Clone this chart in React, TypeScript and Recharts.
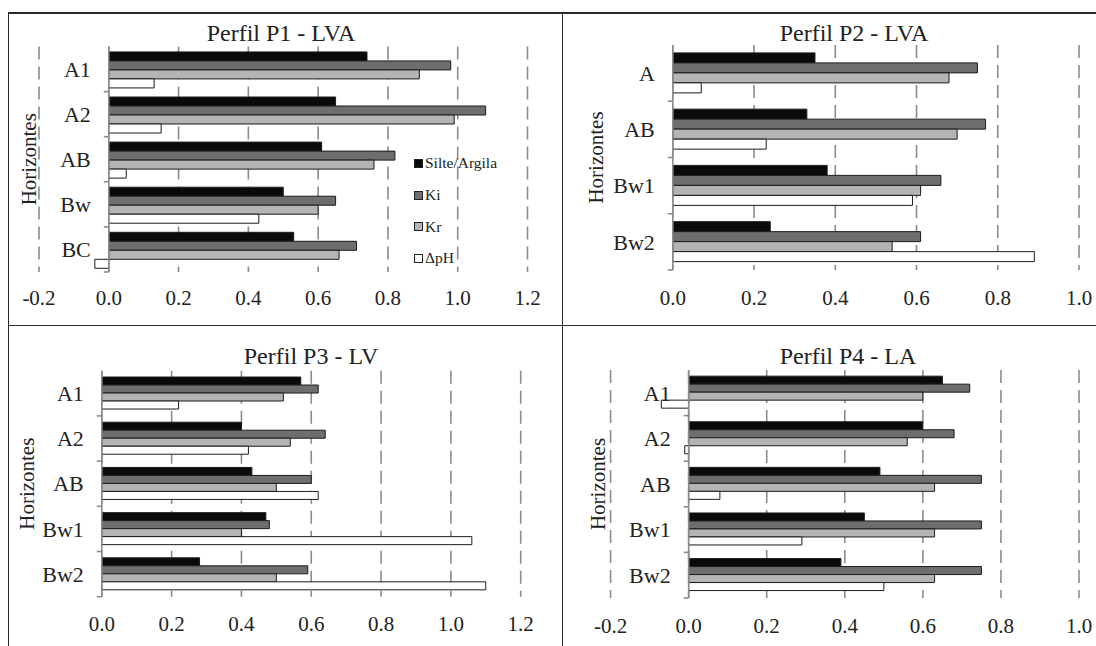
import React from "react";
import { BarChart, Bar, XAxis, YAxis, CartesianGrid, ReferenceLine, Legend } from "recharts";

const serif = '"Liberation Serif", "Times New Roman", serif';
const textColor = "#222";
const gridGray = "#8c8c8c";
const axisGray = "#8c8c8c";
const barStroke = "#1c1c1c";

const seriesKeys = ["silte", "ki", "kr", "dph"];
const seriesNames = ["Silte/Argila", "Ki", "Kr", "ΔpH"];
const seriesFills = ["#0a0a0a", "#6e6e6e", "#b4b4b4", "#ffffff"];

// Perfil P1 - LVA
const p1Horizons = ["A1", "A2", "AB", "Bw", "BC"];
const p1Silte = [0.74, 0.65, 0.61, 0.5, 0.53];
const p1Ki = [0.98, 1.08, 0.82, 0.65, 0.71];
const p1Kr = [0.89, 0.99, 0.76, 0.6, 0.66];
const p1DeltaPH = [0.13, 0.15, 0.05, 0.43, -0.04];
const p1Ticks = [-0.2, 0, 0.2, 0.4, 0.6, 0.8, 1.0, 1.2];

// Perfil P2 - LVA
const p2Horizons = ["A", "AB", "Bw1", "Bw2"];
const p2Silte = [0.35, 0.33, 0.38, 0.24];
const p2Ki = [0.75, 0.77, 0.66, 0.61];
const p2Kr = [0.68, 0.7, 0.61, 0.54];
const p2DeltaPH = [0.07, 0.23, 0.59, 0.89];
const p2Ticks = [0, 0.2, 0.4, 0.6, 0.8, 1.0];

// Perfil P3 - LV
const p3Horizons = ["A1", "A2", "AB", "Bw1", "Bw2"];
const p3Silte = [0.57, 0.4, 0.43, 0.47, 0.28];
const p3Ki = [0.62, 0.64, 0.6, 0.48, 0.59];
const p3Kr = [0.52, 0.54, 0.5, 0.4, 0.5];
const p3DeltaPH = [0.22, 0.42, 0.62, 1.06, 1.1];
const p3Ticks = [0, 0.2, 0.4, 0.6, 0.8, 1.0, 1.2];

// Perfil P4 - LA
const p4Horizons = ["A1", "A2", "AB", "Bw1", "Bw2"];
const p4Silte = [0.65, 0.6, 0.49, 0.45, 0.39];
const p4Ki = [0.72, 0.68, 0.75, 0.75, 0.75];
const p4Kr = [0.6, 0.56, 0.63, 0.63, 0.63];
const p4DeltaPH = [-0.07, -0.01, 0.08, 0.29, 0.5];
const p4Ticks = [-0.2, 0, 0.2, 0.4, 0.6, 0.8, 1.0];

const toRows = (h: string[], s: number[], ki: number[], kr: number[], dph: number[]) =>
  h.map((name, i) => ({ name, silte: s[i], ki: ki[i], kr: kr[i], dph: dph[i] }));

const CategoryTick = (props: any) => {
  const { x, y, payload, shift, half } = props;
  const ax = x + shift;
  return (
    <g>
      <line x1={ax} x2={ax - 5} y1={y + half} y2={y + half} stroke={axisGray} strokeWidth={1.6} />
      <text x={ax - 18} y={y} dy="0.35em" textAnchor="end" fontSize={22} fill={textColor} fontFamily={serif}>
        {payload.value}
      </text>
    </g>
  );
};

// legend keeps the series order of the original figure
const LegendBox = () => (
  <div style={{ fontFamily: serif, fontSize: 15.5, color: textColor }}>
    {seriesNames.map((n, i) => (
      <div key={n} style={{ display: "flex", alignItems: "center", height: 31.7 }}>
        <span
          style={{
            display: "inline-block",
            width: 7,
            height: 7,
            background: seriesFills[i],
            border: "1px solid #222",
            marginRight: 2,
          }}
        />
        {n}
      </div>
    ))}
  </div>
);

type Box = { left: number; top: number; width: number; height: number };
type Plot = { left: number; top: number; right: number; bottom: number };

const Panel = (props: {
  title: string;
  rows: any[];
  ticks: number[];
  box: Box;
  plot: Plot;
  titleX: number;
  titleY: number;
  yLabelX: number;
  tickMargin: number;
  gap: string;
  legend?: boolean;
}) => {
  const { title, rows, ticks, box, plot, titleX, titleY, yLabelX, tickMargin, gap, legend } = props;
  const xAxisH = 40;
  const plotW = plot.right - plot.left;
  const plotH = plot.bottom - plot.top;
  const dmin = ticks[0];
  const dmax = ticks[ticks.length - 1];
  const shift = (plotW * (0 - dmin)) / (dmax - dmin);
  const half = plotH / rows.length / 2;
  const margin = {
    top: plot.top - box.top,
    right: box.left + box.width - plot.right,
    bottom: box.top + box.height - plot.bottom - xAxisH,
    left: 0,
  };
  return (
    <>
      <div
        style={{
          position: "absolute",
          left: titleX - 150,
          top: titleY - 12.5,
          width: 300,
          height: 25,
          lineHeight: "25px",
          textAlign: "center",
          fontSize: 24,
          color: textColor,
          fontFamily: serif,
          zIndex: 2,
        }}
      >
        {title}
      </div>
      <div style={{ position: "absolute", left: box.left, top: box.top }}>
        <BarChart
          width={box.width}
          height={box.height}
          data={rows}
          layout="vertical"
          margin={margin}
          barGap={0}
          barCategoryGap={gap}
        >
          <CartesianGrid horizontal={false} stroke={gridGray} strokeDasharray="13 7" strokeWidth={1.6} />
          <XAxis
            type="number"
            domain={[dmin, dmax]}
            ticks={ticks}
            interval={0}
            allowDataOverflow
            axisLine={false}
            tickLine={false}
            tickSize={0}
            tickMargin={tickMargin}
            height={xAxisH}
            tick={{ fontSize: 21, fill: textColor, fontFamily: serif }}
            tickFormatter={(v: number) => v.toFixed(1)}
          />
          <XAxis
            xAxisId="top"
            orientation="top"
            type="number"
            domain={[dmin, dmax]}
            height={0}
            tick={false}
            tickLine={false}
            axisLine={{ stroke: gridGray, strokeWidth: 1.6 }}
          />
          <YAxis
            type="category"
            dataKey="name"
            width={plot.left - box.left}
            axisLine={false}
            tickLine={false}
            tickSize={0}
            tickMargin={0}
            interval={0}
            tick={(p: any) => <CategoryTick {...p} shift={shift} half={half} />}
            label={{
              value: "Horizontes",
              angle: -90,
              position: "insideLeft",
              offset: yLabelX - box.left,
              style: { textAnchor: "middle", fontSize: 21, fill: textColor, fontFamily: serif },
            }}
          />
          <ReferenceLine x={0} stroke={axisGray} strokeWidth={1.6} />
          {seriesKeys.map((k, i) => (
            <Bar
              key={k}
              dataKey={k}
              name={seriesNames[i]}
              fill={seriesFills[i]}
              stroke={barStroke}
              strokeWidth={1}
              isAnimationActive={false}
            />
          ))}
          {legend && (
            <Legend
              layout="vertical"
              align="center"
              verticalAlign="middle"
              wrapperStyle={{ left: 406, top: 134.5, width: "auto" }}
              content={LegendBox}
            />
          )}
        </BarChart>
      </div>
    </>
  );
};

const lineStyle = (left: number, top: number, width: number, height: number): React.CSSProperties => ({
  position: "absolute",
  left,
  top,
  width,
  height,
  background: "#2a2a2a",
  zIndex: 3,
});

const App = () => {
  return (
    <div
      style={{
        position: "absolute",
        left: 0,
        top: 0,
        width: 1096,
        height: 646,
        background: "#fff",
        overflow: "hidden",
        fontFamily: serif,
      }}
    >
      <Panel
        title="Perfil P1 - LVA"
        rows={toRows(p1Horizons, p1Silte, p1Ki, p1Kr, p1DeltaPH)}
        ticks={p1Ticks}
        box={{ left: 8, top: 13, width: 554, height: 312 }}
        plot={{ left: 39, top: 46.5, right: 527.5, bottom: 272 }}
        titleX={281}
        titleY={33}
        yLabelX={28.6}
        tickMargin={18}
        gap="12%"
        legend
      />
      <Panel
        title="Perfil P2 - LVA"
        rows={toRows(p2Horizons, p2Silte, p2Ki, p2Kr, p2DeltaPH)}
        ticks={p2Ticks}
        box={{ left: 562, top: 13, width: 534, height: 312 }}
        plot={{ left: 672.8, top: 45, right: 1079, bottom: 270 }}
        titleX={854}
        titleY={33}
        yLabelX={596}
        tickMargin={20}
        gap="14%"
      />
      <Panel
        title="Perfil P3 - LV"
        rows={toRows(p3Horizons, p3Silte, p3Ki, p3Kr, p3DeltaPH)}
        ticks={p3Ticks}
        box={{ left: 8, top: 325, width: 554, height: 321 }}
        plot={{ left: 101.8, top: 370.7, right: 520.7, bottom: 596.7 }}
        titleX={311}
        titleY={356.5}
        yLabelX={27}
        tickMargin={19}
        gap="14%"
      />
      <Panel
        title="Perfil P4 - LA"
        rows={toRows(p4Horizons, p4Silte, p4Ki, p4Kr, p4DeltaPH)}
        ticks={p4Ticks}
        box={{ left: 562, top: 325, width: 534, height: 321 }}
        plot={{ left: 610.6, top: 370, right: 1079, bottom: 598 }}
        titleX={848}
        titleY={356.7}
        yLabelX={597.6}
        tickMargin={20}
        gap="13.5%"
      />
      <div style={lineStyle(8, 12, 1088, 1.6)} />
      <div style={lineStyle(7.5, 12, 1.6, 634)} />
      <div style={lineStyle(561.5, 12, 1.6, 634)} />
      <div style={lineStyle(8, 324.5, 1088, 1.6)} />
    </div>
  );
};

export default App;
